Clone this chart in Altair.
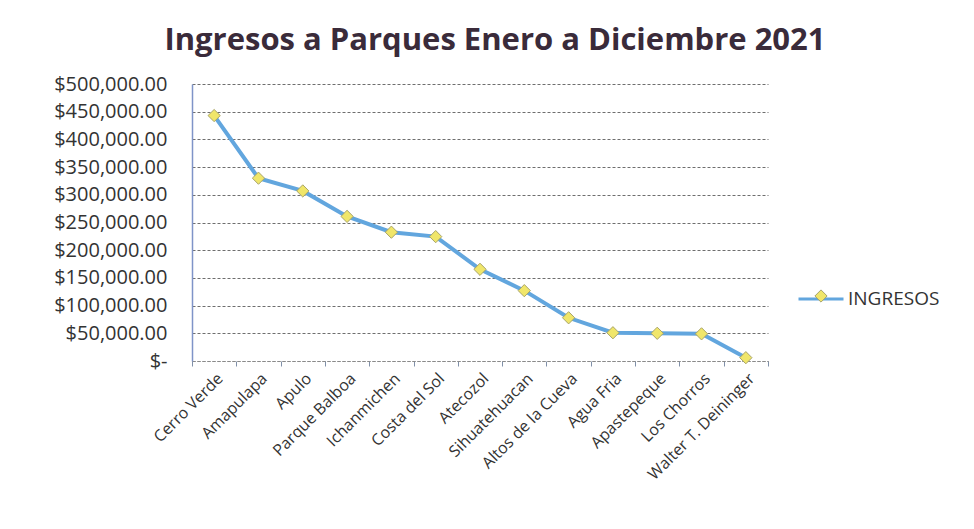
import altair as alt
import pandas as pd

parques = ["Cerro Verde", "Amapulapa", "Apulo", "Parque Balboa", "Ichanmichen",
           "Costa del Sol", "Atecozol", "Sihuatehuacan", "Altos de la Cueva",
           "Agua Fria", "Apastepeque", "Los Chorros", "Walter T. Deininger"]
ingresos = [443000, 330000, 307000, 261000, 232500, 224500, 165500, 127000,
            78000, 51000, 50000, 49000, 6000]
serie = "INGRESOS"

df = pd.DataFrame({"parque": parques, "ingresos": ingresos, "serie": [serie] * len(parques)})

FONT = "Open Sans"

x = alt.X("parque:N", sort=parques, title=None,
          scale=alt.Scale(paddingInner=0, paddingOuter=0),
          axis=alt.Axis(labelAngle=-45, labelAlign="right", labelBaseline="top",
                        labelFont=FONT, labelFontSize=16, labelColor="#333333",
                        labelPadding=4, tickBand="extent", ticks=True, tickSize=5,
                        tickColor="#8090a8", domainColor="#8a8a8a",
                        domainDash=[3, 2], grid=False))
y = alt.Y("ingresos:Q", title=None,
          scale=alt.Scale(domain=[0, 500000], nice=False),
          axis=alt.Axis(values=[i * 50000 for i in range(11)],
                        labelExpr="datum.value == 0 ? '$-' : format(datum.value, '$,.2f')",
                        labelFont=FONT, labelFontSize=20, labelColor="#333333",
                        labelPadding=25, ticks=False, domainColor="#7f94c8",
                        domainWidth=1.5, grid=True, gridColor="#6e6e6e",
                        gridDash=[3, 2], gridWidth=1))

line = alt.Chart(df).mark_line(strokeWidth=4).encode(
    x=x, y=y,
    stroke=alt.Stroke("serie:N",
                      scale=alt.Scale(domain=[serie], range=["#62a6de"]),
                      legend=alt.Legend(title=None, orient="none", legendX=605, legendY=191,
                                        symbolType="M-1,0H1", symbolSize=2025,
                                        symbolStrokeWidth=3, labelFont=FONT,
                                        labelFontSize=19, labelColor="#333333",
                                        labelOffset=3)),
)

points = alt.Chart(df).mark_point(shape="diamond", filled=True, size=150,
                                  stroke="#a8a46a", strokeWidth=1, opacity=1).encode(
    x=x, y=y,
    fill=alt.Fill("serie:N",
                  scale=alt.Scale(domain=[serie], range=["#f0e66a"]),
                  legend=alt.Legend(title=None, orient="none", legendX=622, legendY=205,
                                    symbolType="diamond", symbolSize=150,
                                    symbolStrokeColor="#a8a46a", symbolStrokeWidth=1,
                                    labelExpr="''", labelFontSize=1)),
)

chart = alt.layer(line, points).properties(
    width=576, height=277,
    autosize=alt.AutoSizeParams(type="none"),
    padding={"left": 184, "top": 76, "right": 190, "bottom": 150},
    background="white",
    title=alt.Title("Ingresos a Parques Enero a Diciembre 2021", font=FONT,
                    fontSize=31, fontWeight="bold", color="#3a2b3a",
                    anchor="middle", dx=15, offset=17),
).configure_view(stroke=None).resolve_scale(stroke="independent", fill="independent")

chart.save("out.html", embed_options={"renderer": "svg", "actions": False})
